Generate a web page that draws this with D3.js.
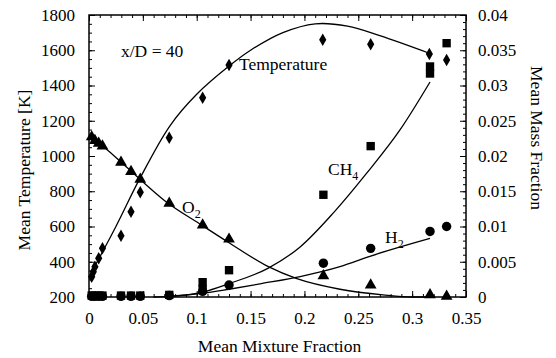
<!DOCTYPE html>
<html>
<head>
<meta charset="utf-8">
<script src="https://cdn.jsdelivr.net/npm/d3@7"></script>
<style>
  body { margin: 0; background: #fff; }
</style>
</head>
<body>
<div id="canvas-svg"></div>
<script>

// ---- data ----
var xTicks = [0, 0.05, 0.1, 0.15, 0.2, 0.25, 0.3, 0.35];
var tempTicks = [200, 400, 600, 800, 1000, 1200, 1400, 1600, 1800];
var massTicks = [0, 0.005, 0.01, 0.015, 0.02, 0.025, 0.03, 0.035, 0.04];

// measured points [mixture fraction, value]
var tempPts = [[0.0025,315],[0.004,343],[0.0055,372],[0.009,420],[0.0125,476],[0.0297,548],
  [0.039,684],[0.0476,794],[0.0745,1104],[0.1055,1331],[0.130,1516],[0.217,1660],
  [0.2615,1634],[0.316,1579],[0.332,1545]];
var o2Pts = [[0.0025,0.0227],[0.0055,0.0222],[0.009,0.0218],[0.0125,0.0214],[0.0297,0.0191],
  [0.039,0.0178],[0.0476,0.0167],[0.0745,0.0133],[0.1055,0.0102],[0.130,0.0082],
  [0.2176,0.0030],[0.2615,0.0017],[0.3166,0.0003],[0.332,0.0001]];
var ch4Pts = [[0.0025,0.0002],[0.0055,0.0002],[0.009,0.0002],[0.0125,0.0002],[0.0297,0.0002],
  [0.039,0.0002],[0.0476,0.0002],[0.0745,0.0003],[0.1055,0.0011],[0.1055,0.0021],
  [0.130,0.0038],[0.2176,0.0145],[0.2615,0.0214],[0.3166,0.0317],[0.3166,0.0327],[0.332,0.0360]];
var h2Pts = [[0.0025,0.0001],[0.0055,0.0001],[0.009,0.0001],[0.0125,0.0001],[0.0297,0.0001],
  [0.039,0.0001],[0.0476,0.0001],[0.0745,0.0002],[0.1055,0.0008],[0.130,0.0017],
  [0.2176,0.0048],[0.2615,0.0069],[0.3166,0.0093],[0.332,0.0100]];

// model curves
var tempCurve = [[0.002,336],[0.025,600],[0.047,870],[0.075,1170],[0.1,1350],[0.13,1510],
  [0.15,1600],[0.18,1700],[0.21,1750],[0.24,1737],[0.27,1683],[0.316,1583]];
var o2Curve = [[0,0.0230],[0.025,0.0198],[0.0473,0.0167],[0.07,0.0137],[0.1046,0.0102],
  [0.13,0.0077],[0.1665,0.0043],[0.193,0.0026],[0.233,0.0011],[0.273,0.0003],[0.30,0.0],[0.32,0.0]];
var ch4Curve = [[0.06,0],[0.0745,0.0001],[0.1055,0.0007],[0.13,0.0019],[0.1665,0.0041],
  [0.196,0.0071],[0.2267,0.0119],[0.258,0.0176],[0.2887,0.0237],[0.3166,0.0305]];
var h2Curve = [[0.07,0],[0.105,0.0005],[0.13,0.0011],[0.16,0.0019],[0.196,0.0029],
  [0.233,0.0043],[0.2615,0.0058],[0.3166,0.0083]];

var W = 556, H = 358;
var plot = {left: 89, right: 466, top: 15, bottom: 297};
var serif = "Liberation Serif";
var fs = 17.5;   // titles and labels
var fsTick = 17; // tick labels

var svg = d3.select("#canvas-svg").append("svg")
    .attr("width", W)
    .attr("height", H);

var x = d3.scaleLinear().domain([0, 0.35]).range([plot.left, plot.right]);
var y = d3.scaleLinear().domain([200, 1800]).range([plot.bottom, plot.top]);
var yR = d3.scaleLinear().domain([0, 0.04]).range([plot.bottom, plot.top]);

// minor ticks (no labels)
function minor(axis, vals) {
  return axis.tickValues(vals).tickSizeInner(-3).tickSizeOuter(0).tickFormat("");
}
var xMinor = d3.range(0, 0.351, 0.01);
var yMinor = d3.range(200, 1801, 50);
var rMinor = d3.range(0, 0.0401, 0.001);

svg.append("g").attr("transform", "translate(0," + plot.bottom + ")").call(minor(d3.axisBottom(x), xMinor));
svg.append("g").attr("transform", "translate(0," + plot.top + ")").call(minor(d3.axisTop(x), xMinor));
svg.append("g").attr("transform", "translate(" + plot.left + ",0)").call(minor(d3.axisLeft(y), yMinor));
svg.append("g").attr("transform", "translate(" + plot.right + ",0)").call(minor(d3.axisRight(yR), rMinor));

// major ticks with labels
var fmt = function(d) { return d3.format("~g")(d); };
svg.append("g").attr("transform", "translate(0," + plot.bottom + ")")
  .call(d3.axisBottom(x).tickValues(xTicks).tickSizeInner(-6).tickSizeOuter(0).tickPadding(15).tickFormat(fmt));
svg.append("g").attr("transform", "translate(0," + plot.top + ")")
  .call(d3.axisTop(x).tickValues(xTicks).tickSizeInner(-6).tickSizeOuter(0).tickFormat(""));
svg.append("g").attr("transform", "translate(" + plot.left + ",0)")
  .call(d3.axisLeft(y).tickValues(tempTicks).tickSizeInner(-6).tickSizeOuter(0).tickPadding(14).tickFormat(d3.format("d")));
svg.append("g").attr("transform", "translate(" + plot.right + ",0)")
  .call(d3.axisRight(yR).tickValues(massTicks).tickSizeInner(-6).tickSizeOuter(0).tickPadding(12).tickFormat(fmt));

svg.selectAll(".domain").remove();
svg.selectAll(".tick line").style("stroke", "#000").style("stroke-width", 1);
svg.selectAll(".tick text")
  .attr("font-family", serif).attr("font-size", fsTick).attr("fill", "#000");

// frame
svg.append("rect")
  .attr("x", plot.left).attr("y", plot.top)
  .attr("width", plot.right - plot.left).attr("height", plot.bottom - plot.top)
  .style("fill", "none").style("stroke", "#000").style("stroke-width", 1.5);

// axis titles
function label(t) {
  return t.attr("font-family", serif).attr("font-size", fs).attr("fill", "#000");
}
label(svg.append("text"))
  .attr("x", (plot.left + plot.right) / 2 + 2).attr("y", 352)
  .attr("text-anchor", "middle")
  .text("Mean Mixture Fraction");
label(svg.append("text"))
  .attr("transform", "translate(30,170) rotate(-90)")
  .attr("text-anchor", "middle")
  .text("Mean Temperature [K]");
label(svg.append("text"))
  .attr("transform", "translate(531,138) rotate(90)")
  .attr("text-anchor", "middle")
  .text("Mean Mass Fraction");

// curves
var lineT = d3.line().x(function(d){return x(d[0]);}).y(function(d){return y(d[1]);}).curve(d3.curveCatmullRom);
var lineM = d3.line().x(function(d){return x(d[0]);}).y(function(d){return yR(d[1]);}).curve(d3.curveMonotoneX);

svg.append("path").attr("d", lineT(tempCurve)).style("fill","none").style("stroke","#000").style("stroke-width",1.3);
svg.append("path").attr("d", lineM(o2Curve)).style("fill","none").style("stroke","#000").style("stroke-width",1.3);
svg.append("path").attr("d", lineM(ch4Curve)).style("fill","none").style("stroke","#000").style("stroke-width",1.3);
svg.append("path").attr("d", lineM(h2Curve)).style("fill","none").style("stroke","#000").style("stroke-width",1.3);

// markers
function marks(pts, sc, type, size) {
  svg.append("g").selectAll("path").data(pts).enter().append("path")
    .attr("transform", function(d){ return "translate(" + x(d[0]) + "," + sc(d[1]) + ")"; })
    .attr("d", d3.symbol().type(type).size(size))
    .style("fill", "#000");
}
marks(ch4Pts, yR, d3.symbolSquare, 70);
marks(h2Pts, yR, d3.symbolCircle, 70);
marks(o2Pts, yR, d3.symbolTriangle, 60);
marks(tempPts, y, d3.symbolDiamond, 45);

// labels
label(svg.append("text")).attr("x", 121).attr("y", 57).text("x/D = 40");
label(svg.append("text")).attr("x", 239).attr("y", 70).text("Temperature");

function chem(xp, yp, base, sub) {
  var t = label(svg.append("text")).attr("x", xp).attr("y", yp);
  t.append("tspan").text(base);
  t.append("tspan").attr("dy", 5).attr("font-size", 12).text(sub);
}
chem(328, 175, "CH", "4");
chem(385, 243, "H", "2");
chem(182, 213, "O", "2");

</script>
</body>
</html>
